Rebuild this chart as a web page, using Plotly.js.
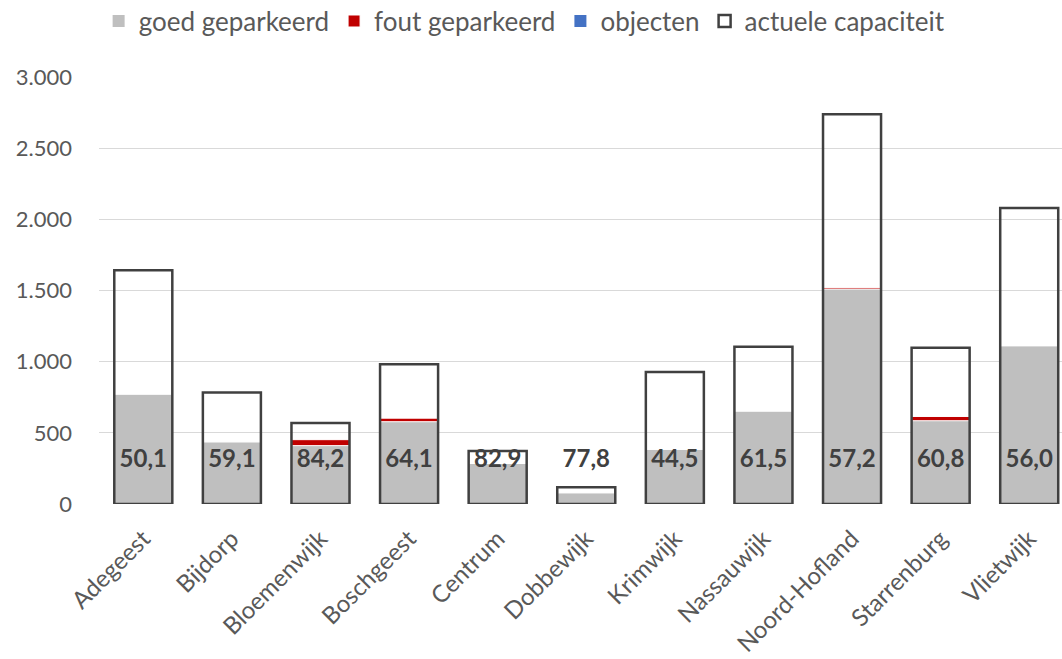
<!DOCTYPE html>
<html><head><meta charset="utf-8">
<script src="https://cdn.plot.ly/plotly-3.0.1.min.js"></script>
<style>html,body{margin:0;padding:0;background:#fff}#c{width:1062px;height:659px}</style>
</head><body><div id="c"></div>
<script>
const categories = ["Adegeest","Bijdorp","Bloemenwijk","Boschgeest","Centrum","Dobbewijk","Krimwijk","Nassauwijk","Noord-Hofland","Starrenburg","Vlietwijk"];
const goedGeparkeerd = [772, 437, 410, 578, 285, 79, 384, 653, 1510, 585, 1112];
const foutGeparkeerd = [0, 0, 42, 25, 0, 0, 0, 0, 10, 30, 0];
const objecten = [0, 0, 0, 0, 0, 0, 0, 0, 0, 0, 0];
const capaciteit = [1643, 784, 569, 981, 372, 117, 927, 1105, 2739, 1098, 2079];
const bezetting = ["50,1","59,1","84,2","64,1","82,9","77,8","44,5","61,5","57,2","60,8","56,0"];
const yTickVals = [0, 500, 1000, 1500, 2000, 2500, 3000];
const yTickText = ["0","500","1.000","1.500","2.000","2.500","3.000"];

const LABEL_Y = 300;
const FONT = "Lato, 'Open Sans', sans-serif";
const foutBase = goedGeparkeerd;
const objBase = goedGeparkeerd.map((v,i)=>v+foutGeparkeerd[i]);

const traces = [
  {type:'bar', name:'goed geparkeerd', x:categories, y:goedGeparkeerd, marker:{color:'#bfbfbf'}, hoverinfo:'skip'},
  {type:'bar', name:'fout geparkeerd', x:categories, y:foutGeparkeerd, base:foutBase, marker:{color:'#c00000', line:{color:'#ffffff', width:1}}, hoverinfo:'skip'},
  {type:'bar', name:'objecten', x:categories, y:objecten, base:objBase, marker:{color:'#4472c4'}, hoverinfo:'skip'},
  {type:'bar', name:'actuele capaciteit', x:categories, y:capaciteit, marker:{color:'rgba(255,255,255,0)', line:{color:'#404040', width:2.5}}, hoverinfo:'skip'},
  {type:'scatter', mode:'text', x:categories, y:categories.map(()=>LABEL_Y), text:bezetting, textposition:'middle center',
   textfont:{family:FONT, size:24, color:'#404040', weight:'bold'}, showlegend:false, hoverinfo:'skip'}
];

const layout = {
  width:1062, height:659,
  margin:{l:99, r:0, t:77, b:155},
  paper_bgcolor:'#ffffff', plot_bgcolor:'#ffffff',
  barmode:'overlay', bargap:0.345,
  font:{family:FONT, color:'#595959', size:21},
  showlegend:true,
  legend:{orientation:'h', x:0.494, xanchor:'center', xref:'container', y:0.968, yanchor:'middle', yref:'container',
          font:{size:26, color:'#595959'}, traceorder:'normal', itemwidth:20, tracegroupgap:0},
  xaxis:{range:[-0.5, 10.37], tickangle:-45, showgrid:false, zeroline:false, showline:false, ticks:'', ticklabelstandoff:15,
         tickfont:{size:24, color:'#595959'}, automargin:false},
  yaxis:{range:[0,3000], tickvals:yTickVals, ticktext:yTickText, showgrid:true, gridcolor:'#d9d9d9', gridwidth:1.2, zeroline:false, showline:false,
         ticks:'', ticklabelstandoff:26, tickfont:{size:22, color:'#595959'}, automargin:false}
};

Plotly.newPlot('c', traces, layout, {displayModeBar:false, staticPlot:true});
</script>
</body></html>
